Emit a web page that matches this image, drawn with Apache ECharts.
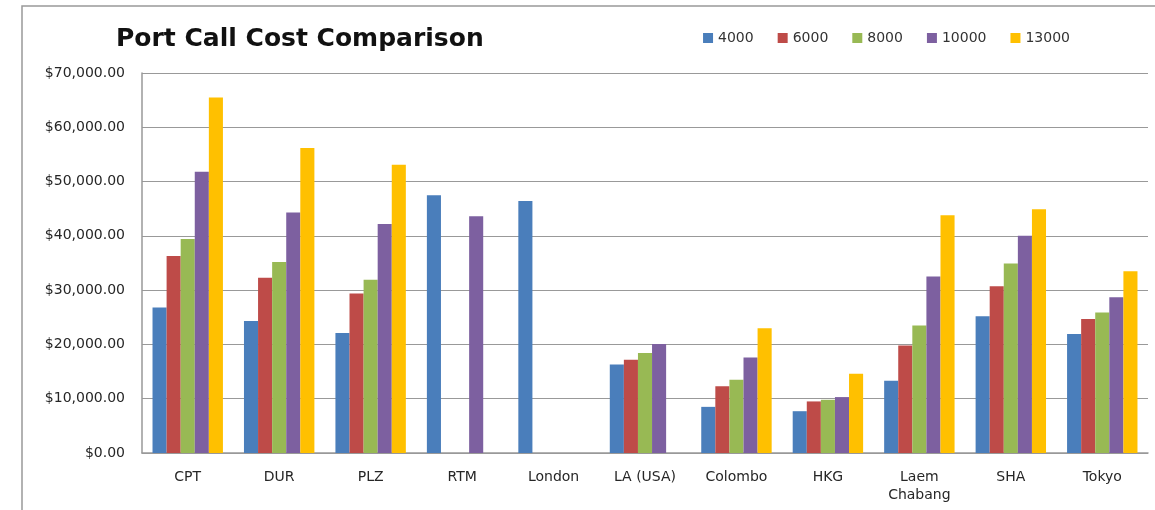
<!DOCTYPE html>
<html>
<head>
<meta charset="utf-8">
<script src="https://cdn.jsdelivr.net/npm/echarts@6/dist/echarts.min.js"></script>
<style>
  html, body { margin: 0; padding: 0; background: #fff; }
  #chart { width: 1155px; height: 510px; }
</style>
</head>
<body>
<div id="chart"></div>
<script>
var ports = ['CPT', 'DUR', 'PLZ', 'RTM', 'London', 'LA (USA)', 'Colombo', 'HKG', 'Laem\nChabang', 'SHA', 'Tokyo'];
var sizes = ['4000', '6000', '8000', '10000', '13000'];
var colors = ['#4a7ebb', '#be4b48', '#98b954', '#7d60a0', '#ffc000'];

var cost4000  = [26800, 24300, 22100, 47500, 46400, 16300, 8500, 7700, 13300, 25200, 21900];
var cost6000  = [36300, 32300, 29400, null, null, 17200, 12300, 9500, 19800, 30700, 24700];
var cost8000  = [39400, 35200, 31900, null, null, 18400, 13500, 9800, 23500, 34900, 25900];
var cost10000 = [51800, 44300, 42200, 43600, null, 20100, 17600, 10300, 32500, 40000, 28700];
var cost13000 = [65500, 56200, 53100, null, null, null, 23000, 14600, 43800, 44900, 33500];

var allCosts = [cost4000, cost6000, cost8000, cost10000, cost13000];

var chart = echarts.init(document.getElementById('chart'));

var series = sizes.map(function (s, i) {
  return {
    name: s,
    type: 'bar',
    data: allCosts[i],
    barGap: '0%',
    barCategoryGap: '23%',
    itemStyle: { color: colors[i] }
  };
});

var font = 'DejaVu Sans';

var option = {
  animation: false,
  color: colors,
  title: {
    text: 'Port Call Cost Comparison',
    left: 111,
    top: 22,
    textStyle: { fontFamily: font, fontWeight: 'bold', fontSize: 25, color: '#111' }
  },
  legend: {
    right: 80,
    top: 26,
    itemWidth: 10,
    itemHeight: 10,
    itemGap: 24,
    icon: 'rect',
    textStyle: { fontFamily: font, fontSize: 14, color: '#333', padding: [0, 0, 0, 0] },
    data: sizes
  },
  graphic: [{
    type: 'rect',
    shape: { x: 22, y: 6, width: 1150, height: 520 },
    style: { fill: 'none', stroke: '#999', lineWidth: 1.5 }
  }],
  grid: { left: 142, right: 7, top: 73, bottom: 57 },
  xAxis: {
    type: 'category',
    data: ports,
    axisTick: { show: false },
    axisLine: { lineStyle: { color: '#999', width: 1.5 } },
    axisLabel: { fontFamily: font, fontSize: 14, color: '#262626', margin: 15, lineHeight: 18 }
  },
  yAxis: {
    type: 'value',
    min: 0,
    max: 70000,
    interval: 10000,
    axisLine: { show: true, lineStyle: { color: '#999', width: 1.5 } },
    axisTick: { show: false },
    splitLine: { lineStyle: { color: '#999', width: 1.2 } },
    axisLabel: {
      fontFamily: font, fontSize: 14, color: '#262626', margin: 17,
      formatter: function (v) {
        return '$' + v.toLocaleString('en-US', { minimumFractionDigits: 2, maximumFractionDigits: 2 });
      }
    }
  },
  series: series
};

chart.setOption(option);
</script>
</body>
</html>
